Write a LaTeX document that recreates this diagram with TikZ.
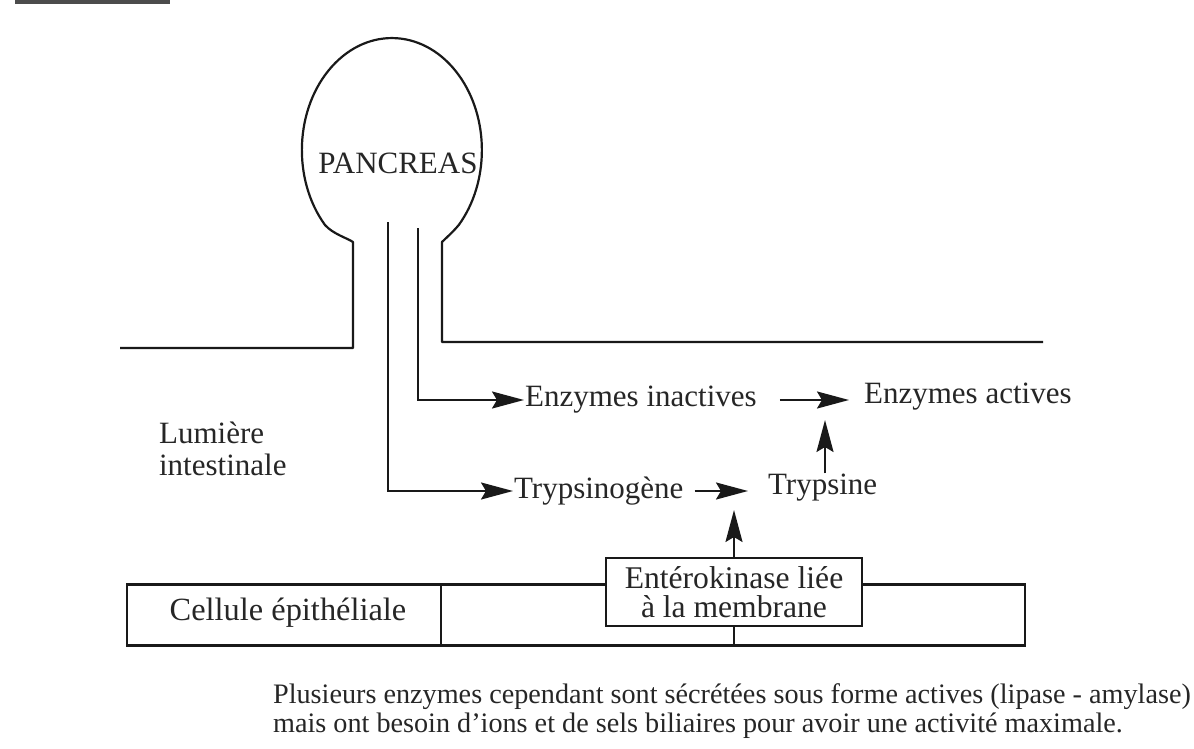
\documentclass[tikz,border=0pt]{standalone}
\usepackage{fontspec}
\setmainfont{Liberation Serif}
\usetikzlibrary{arrows.meta}
\begin{document}
\begin{tikzpicture}[x=0.5pt,y=-0.5pt,
  line width=1.1pt, color=black!90,
  arr/.style={-{Stealth[length=16pt,width=8.5pt,inset=2.5pt]}},
  lbl/.style={inner sep=0pt,text=black!85,font=\fontsize{15.5pt}{16pt}\selectfont},
  boxtxt/.style={inner sep=0pt,text=black!85,font=\fontsize{15.8pt}{14.6pt}\selectfont},
  note/.style={inner sep=0pt,text=black!85,align=left,font=\fontsize{14.1pt}{14.2pt}\selectfont}]
\useasboundingbox (0,0) rectangle (1194,749);
% cut-off title underline
\fill[black!70] (15,0) rectangle (170,4);
% pancreas outline and intestinal wall
\draw[line join=round] (120,348) -- (353,348) -- (353,242)
  .. controls (347,238) and (333,234) .. (325,225)
  arc[start angle=138, end angle=402, x radius=90, y radius=112]
  .. controls (452,233) and (446,238) .. (442,242) -- (442,342) -- (1043,342);
\node[lbl] (pan) at (398,163) {PANCREAS};
% text nodes
\node[lbl, anchor=west] (ei) at (524,400) {Enzymes inactives};
\node[lbl, anchor=west] (ea) at (863,397) {Enzymes actives};
\node[lbl, anchor=west] (tg) at (513,491) {Trypsinogène};
\node[lbl, anchor=west] (tr) at (767,488) {Trypsine};
\node[lbl, anchor=west, align=left, font=\fontsize{15.5pt}{16pt}\selectfont] (lum) at (158,449) {Lumière\\intestinale};
% epithelial cell
\node[draw, minimum width=449pt, minimum height=30.5pt, inner sep=0pt] (epi) at (576,615) {};
\draw (441,584) -- (441,646);
\node[boxtxt, font=\fontsize{16.2pt}{14.6pt}\selectfont] (cell) at (288,613) {Cellule épithéliale};
\node[draw, fill=white, minimum width=128pt, minimum height=34pt, inner sep=0pt, align=center, boxtxt] (ek) at (734,592) {Entérokinase liée\\à la membrane};
\draw (ek.south) -- (ek.south |- epi.south);
% ducts and arrows
\coordinate (d1) at (388,222);
\coordinate (d2) at (418,228);
\draw[arr] (d1) |- (tg.west);
\draw[arr] (d2) |- (ei.west);
\draw[arr, shorten <=5pt, shorten >=9.5pt] (tg.east) -- (tg.east -| tr.west);
\draw[arr, shorten <=11pt, shorten >=7pt] (ei.east) -- (ei.east -| ea.west);
\coordinate (ektip) at (734,510);
\draw[arr] (ek.north) -- (ektip);
\coordinate (trtip) at (825,420);
\draw[arr] (tr.north -| trtip) -- (trtip);
% note
\node[note, anchor=north west] (nt) at (272,683) {Plusieurs enzymes cependant sont sécrétées sous forme actives (lipase - amylase)\\mais ont besoin d'ions et de sels biliaires pour avoir une activité maximale.};
\end{tikzpicture}
\end{document}
